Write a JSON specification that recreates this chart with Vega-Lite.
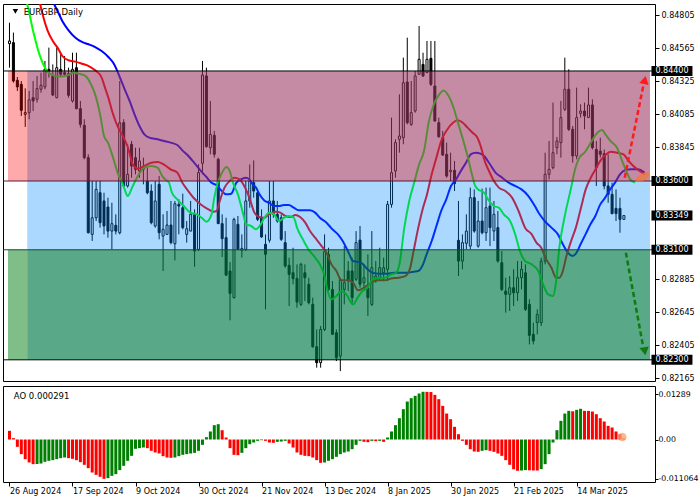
{
"$schema": "https://vega.github.io/schema/vega-lite/v6.json",
"padding": {"left": 2, "top": 3, "right": 0, "bottom": 0},
"background": "white",
"spacing": 2,
"config": {
  "view": {"stroke": "black", "strokeWidth": 1, "fill": "white"},
  "font": "DejaVu Sans",
  "axis": {"labelFont": "DejaVu Sans", "labelFontSize": 8, "labelColor": "black", "tickColor": "black", "domainColor": "black", "grid": false}
},
"datasets": {
"candles": [
{"i":0,"o":0.84599,"h":0.84751,"l":0.84424,"c":0.84618},
{"i":1,"o":0.84606,"h":0.84679,"l":0.84315,"c":0.84327},
{"i":2,"o":0.84332,"h":0.84356,"l":0.84255,"c":0.84284},
{"i":3,"o":0.84303,"h":0.84327,"l":0.84073,"c":0.84114},
{"i":4,"o":0.84085,"h":0.84274,"l":0.83993,"c":0.84097},
{"i":5,"o":0.84097,"h":0.84255,"l":0.84049,"c":0.84191},
{"i":6,"o":0.84206,"h":0.84327,"l":0.84109,"c":0.84182},
{"i":7,"o":0.84194,"h":0.84364,"l":0.84170,"c":0.84272},
{"i":8,"o":0.84267,"h":0.84388,"l":0.84242,"c":0.84296},
{"i":9,"o":0.84284,"h":0.84473,"l":0.84267,"c":0.84412},
{"i":10,"o":0.84412,"h":0.84570,"l":0.84352,"c":0.84395},
{"i":11,"o":0.84364,"h":0.84448,"l":0.84218,"c":0.84225},
{"i":12,"o":0.84206,"h":0.84570,"l":0.84201,"c":0.84424},
{"i":13,"o":0.84412,"h":0.84521,"l":0.84356,"c":0.84376},
{"i":14,"o":0.84388,"h":0.84509,"l":0.84364,"c":0.84376},
{"i":15,"o":0.84381,"h":0.84424,"l":0.84206,"c":0.84223},
{"i":16,"o":0.84182,"h":0.84533,"l":0.84170,"c":0.84412},
{"i":17,"o":0.84424,"h":0.84533,"l":0.84121,"c":0.84126},
{"i":18,"o":0.84126,"h":0.84182,"l":0.83988,"c":0.84012},
{"i":19,"o":0.84005,"h":0.84049,"l":0.83758,"c":0.83770},
{"i":20,"o":0.83770,"h":0.83794,"l":0.83219,"c":0.83224},
{"i":21,"o":0.83212,"h":0.83600,"l":0.83164,"c":0.83333},
{"i":22,"o":0.83333,"h":0.83600,"l":0.83309,"c":0.83539},
{"i":23,"o":0.83515,"h":0.83600,"l":0.83261,"c":0.83297},
{"i":24,"o":0.83455,"h":0.83515,"l":0.83212,"c":0.83273},
{"i":25,"o":0.83411,"h":0.83479,"l":0.83188,"c":0.83236},
{"i":26,"o":0.83236,"h":0.83442,"l":0.83103,"c":0.83290},
{"i":27,"o":0.83278,"h":0.83358,"l":0.83212,"c":0.83236},
{"i":28,"o":0.83224,"h":0.84327,"l":0.83212,"c":0.84024},
{"i":29,"o":0.84024,"h":0.84049,"l":0.83552,"c":0.83564},
{"i":30,"o":0.83564,"h":0.83867,"l":0.83552,"c":0.83649},
{"i":31,"o":0.83867,"h":0.83891,"l":0.83624,"c":0.83709},
{"i":32,"o":0.83770,"h":0.83842,"l":0.83649,"c":0.83685},
{"i":33,"o":0.83673,"h":0.83842,"l":0.83624,"c":0.83746},
{"i":34,"o":0.83697,"h":0.83770,"l":0.83576,"c":0.83685},
{"i":35,"o":0.83600,"h":0.83697,"l":0.83503,"c":0.83515},
{"i":36,"o":0.83527,"h":0.83576,"l":0.83285,"c":0.83297},
{"i":37,"o":0.83273,"h":0.83600,"l":0.83261,"c":0.83455},
{"i":38,"o":0.83576,"h":0.83636,"l":0.83176,"c":0.83224},
{"i":39,"o":0.83200,"h":0.83358,"l":0.82946,"c":0.83249},
{"i":40,"o":0.83212,"h":0.83382,"l":0.83212,"c":0.83280},
{"i":41,"o":0.83280,"h":0.83455,"l":0.83140,"c":0.83152},
{"i":42,"o":0.83144,"h":0.83455,"l":0.83023,"c":0.83435},
{"i":43,"o":0.83430,"h":0.83467,"l":0.83212,"c":0.83418},
{"i":44,"o":0.83406,"h":0.83508,"l":0.83249,"c":0.83261},
{"i":45,"o":0.83212,"h":0.83309,"l":0.83152,"c":0.83253},
{"i":46,"o":0.83236,"h":0.83455,"l":0.83236,"c":0.83358},
{"i":47,"o":0.83358,"h":0.83394,"l":0.82977,"c":0.83091},
{"i":48,"o":0.83103,"h":0.83721,"l":0.83091,"c":0.83661},
{"i":49,"o":0.83729,"h":0.84473,"l":0.83649,"c":0.84371},
{"i":50,"o":0.84364,"h":0.84424,"l":0.83842,"c":0.83850},
{"i":51,"o":0.83842,"h":0.84182,"l":0.83794,"c":0.83939},
{"i":52,"o":0.83932,"h":0.83964,"l":0.83770,"c":0.83794},
{"i":53,"o":0.83758,"h":0.83770,"l":0.83290,"c":0.83290},
{"i":54,"o":0.83290,"h":0.83358,"l":0.83047,"c":0.83181},
{"i":55,"o":0.83188,"h":0.83333,"l":0.82909,"c":0.82916},
{"i":56,"o":0.82946,"h":0.83011,"l":0.82587,"c":0.82783},
{"i":57,"o":0.82752,"h":0.83333,"l":0.82745,"c":0.83321},
{"i":58,"o":0.83285,"h":0.83346,"l":0.83096,"c":0.83103},
{"i":59,"o":0.83096,"h":0.83212,"l":0.83043,"c":0.83110},
{"i":60,"o":0.83103,"h":0.83600,"l":0.83091,"c":0.83455},
{"i":61,"o":0.83455,"h":0.83721,"l":0.83406,"c":0.83600},
{"i":62,"o":0.83588,"h":0.83750,"l":0.83479,"c":0.83527},
{"i":63,"o":0.83515,"h":0.83527,"l":0.83309,"c":0.83321},
{"i":64,"o":0.83333,"h":0.83394,"l":0.83188,"c":0.83193},
{"i":65,"o":0.83140,"h":0.83212,"l":0.82667,"c":0.83067},
{"i":66,"o":0.83169,"h":0.83600,"l":0.83152,"c":0.83455},
{"i":67,"o":0.83455,"h":0.83600,"l":0.83333,"c":0.83358},
{"i":68,"o":0.83358,"h":0.83455,"l":0.83297,"c":0.83309},
{"i":69,"o":0.83333,"h":0.83358,"l":0.83164,"c":0.83176},
{"i":70,"o":0.83152,"h":0.83236,"l":0.82970,"c":0.82982},
{"i":71,"o":0.82987,"h":0.83043,"l":0.82691,"c":0.82921},
{"i":72,"o":0.82933,"h":0.83115,"l":0.82849,"c":0.82890},
{"i":73,"o":0.82892,"h":0.82994,"l":0.82679,"c":0.82720},
{"i":74,"o":0.82703,"h":0.83006,"l":0.82691,"c":0.82994},
{"i":75,"o":0.82933,"h":0.82994,"l":0.82727,"c":0.82897},
{"i":76,"o":0.82849,"h":0.82897,"l":0.82703,"c":0.82715},
{"i":77,"o":0.82703,"h":0.82752,"l":0.82388,"c":0.82395},
{"i":78,"o":0.82395,"h":0.82521,"l":0.82243,"c":0.82279},
{"i":79,"o":0.82279,"h":0.82546,"l":0.82243,"c":0.82521},
{"i":80,"o":0.82521,"h":0.83212,"l":0.82509,"c":0.83086},
{"i":81,"o":0.83067,"h":0.83115,"l":0.82800,"c":0.82812},
{"i":82,"o":0.82812,"h":0.82873,"l":0.82485,"c":0.82485},
{"i":83,"o":0.82497,"h":0.82521,"l":0.82291,"c":0.82315},
{"i":84,"o":0.82327,"h":0.82897,"l":0.82218,"c":0.82885},
{"i":85,"o":0.82812,"h":0.83127,"l":0.82703,"c":0.82861},
{"i":86,"o":0.82946,"h":0.83018,"l":0.82800,"c":0.82873},
{"i":87,"o":0.82946,"h":0.83043,"l":0.82715,"c":0.82752},
{"i":88,"o":0.82885,"h":0.83236,"l":0.82873,"c":0.83152},
{"i":89,"o":0.83171,"h":0.83273,"l":0.82824,"c":0.82849},
{"i":90,"o":0.82861,"h":0.82994,"l":0.82800,"c":0.82897},
{"i":91,"o":0.82824,"h":0.83067,"l":0.82618,"c":0.82752},
{"i":92,"o":0.82703,"h":0.83236,"l":0.82691,"c":0.82970},
{"i":93,"o":0.82873,"h":0.83018,"l":0.82861,"c":0.82909},
{"i":94,"o":0.82897,"h":0.83115,"l":0.82873,"c":0.82970},
{"i":95,"o":0.82933,"h":0.83043,"l":0.82873,"c":0.82970},
{"i":96,"o":0.82958,"h":0.83455,"l":0.82873,"c":0.83430},
{"i":97,"o":0.83430,"h":0.84061,"l":0.83406,"c":0.83661},
{"i":98,"o":0.83673,"h":0.83903,"l":0.83624,"c":0.83879},
{"i":99,"o":0.83903,"h":0.84230,"l":0.83806,"c":0.83927},
{"i":100,"o":0.83915,"h":0.84497,"l":0.83867,"c":0.84315},
{"i":101,"o":0.84320,"h":0.84642,"l":0.84012,"c":0.84024},
{"i":102,"o":0.84012,"h":0.84327,"l":0.84000,"c":0.84097},
{"i":103,"o":0.84109,"h":0.84400,"l":0.84097,"c":0.84364},
{"i":104,"o":0.84376,"h":0.84727,"l":0.84376,"c":0.84485},
{"i":105,"o":0.84448,"h":0.84533,"l":0.84356,"c":0.84364},
{"i":106,"o":0.84388,"h":0.84618,"l":0.84388,"c":0.84485},
{"i":107,"o":0.84492,"h":0.84618,"l":0.84291,"c":0.84303},
{"i":108,"o":0.84291,"h":0.84618,"l":0.84032,"c":0.84036},
{"i":109,"o":0.84024,"h":0.84061,"l":0.83915,"c":0.83922},
{"i":110,"o":0.83915,"h":0.83964,"l":0.83782,"c":0.83789},
{"i":111,"o":0.83794,"h":0.83879,"l":0.83624,"c":0.83636},
{"i":112,"o":0.83668,"h":0.83806,"l":0.83600,"c":0.83678},
{"i":113,"o":0.83678,"h":0.83746,"l":0.83527,"c":0.83581},
{"i":114,"o":0.83169,"h":0.83455,"l":0.82909,"c":0.83018},
{"i":115,"o":0.83018,"h":0.83212,"l":0.82958,"c":0.83152},
{"i":116,"o":0.83147,"h":0.83358,"l":0.83103,"c":0.83236},
{"i":117,"o":0.83127,"h":0.83552,"l":0.83103,"c":0.83479},
{"i":118,"o":0.83479,"h":0.83539,"l":0.83224,"c":0.83236},
{"i":119,"o":0.83127,"h":0.83455,"l":0.83115,"c":0.83309},
{"i":120,"o":0.83309,"h":0.83545,"l":0.83212,"c":0.83224},
{"i":121,"o":0.83224,"h":0.83552,"l":0.83164,"c":0.83406},
{"i":122,"o":0.83418,"h":0.83552,"l":0.83127,"c":0.83261},
{"i":123,"o":0.83236,"h":0.83455,"l":0.83164,"c":0.83358},
{"i":124,"o":0.83261,"h":0.83382,"l":0.83006,"c":0.83018},
{"i":125,"o":0.83006,"h":0.83091,"l":0.82800,"c":0.82812},
{"i":126,"o":0.82800,"h":0.82897,"l":0.82643,"c":0.82776},
{"i":127,"o":0.82776,"h":0.82909,"l":0.82655,"c":0.82824},
{"i":128,"o":0.82824,"h":0.82958,"l":0.82691,"c":0.82788},
{"i":129,"o":0.82788,"h":0.83018,"l":0.82727,"c":0.82897},
{"i":130,"o":0.82897,"h":0.83018,"l":0.82812,"c":0.82958},
{"i":131,"o":0.82933,"h":0.82994,"l":0.82655,"c":0.82667},
{"i":132,"o":0.82703,"h":0.82740,"l":0.82412,"c":0.82478},
{"i":133,"o":0.82485,"h":0.82570,"l":0.82412,"c":0.82437},
{"i":134,"o":0.82570,"h":0.82667,"l":0.82485,"c":0.82630},
{"i":135,"o":0.82570,"h":0.83043,"l":0.82546,"c":0.83018},
{"i":136,"o":0.83018,"h":0.83806,"l":0.82994,"c":0.83649},
{"i":137,"o":0.83649,"h":0.83891,"l":0.83612,"c":0.83685},
{"i":138,"o":0.83697,"h":0.84170,"l":0.83685,"c":0.83806},
{"i":139,"o":0.83842,"h":0.83920,"l":0.83794,"c":0.83891},
{"i":140,"o":0.83879,"h":0.84182,"l":0.83770,"c":0.84061},
{"i":141,"o":0.84121,"h":0.84497,"l":0.84109,"c":0.84267},
{"i":142,"o":0.84267,"h":0.84412,"l":0.83964,"c":0.83976},
{"i":143,"o":0.83976,"h":0.84000,"l":0.83733,"c":0.83782},
{"i":144,"o":0.83782,"h":0.84279,"l":0.83758,"c":0.84061},
{"i":145,"o":0.84092,"h":0.84158,"l":0.84061,"c":0.84109},
{"i":146,"o":0.84109,"h":0.84170,"l":0.83976,"c":0.84073},
{"i":147,"o":0.84061,"h":0.84279,"l":0.84061,"c":0.84153},
{"i":148,"o":0.84153,"h":0.84194,"l":0.83830,"c":0.83842},
{"i":149,"o":0.83830,"h":0.83891,"l":0.83564,"c":0.83697},
{"i":150,"o":0.83818,"h":0.83915,"l":0.83770,"c":0.83794},
{"i":151,"o":0.83799,"h":0.83830,"l":0.83539,"c":0.83564},
{"i":152,"o":0.83564,"h":0.83794,"l":0.83442,"c":0.83503},
{"i":153,"o":0.83503,"h":0.83588,"l":0.83358,"c":0.83363},
{"i":154,"o":0.83401,"h":0.83539,"l":0.83309,"c":0.83363},
{"i":155,"o":0.83401,"h":0.83479,"l":0.83224,"c":0.83321},
{"i":156,"o":0.83321,"h":0.83350,"l":0.83321,"c":0.83349}
],
"alligator": [
{"line":"Jaw","i":10.9,"v":0.84909},{"line":"Jaw","i":12.2,"v":0.84836},{"line":"Jaw","i":13.4,"v":0.84764},{"line":"Jaw","i":15,"v":0.84696},{"line":"Jaw","i":16.75,"v":0.84642},{"line":"Jaw","i":18.4,"v":0.84611},{"line":"Jaw","i":20.1,"v":0.84594},{"line":"Jaw","i":21.75,"v":0.84574},{"line":"Jaw","i":23.4,"v":0.84545},{"line":"Jaw","i":25.1,"v":0.84502},{"line":"Jaw","i":26.3,"v":0.84461},{"line":"Jaw","i":27.2,"v":0.84412},{"line":"Jaw","i":28,"v":0.84356},{"line":"Jaw","i":29.25,"v":0.84267},{"line":"Jaw","i":30.5,"v":0.84182},{"line":"Jaw","i":31.75,"v":0.84085},{"line":"Jaw","i":33,"v":0.84000},{"line":"Jaw","i":34.25,"v":0.83939},{"line":"Jaw","i":35.5,"v":0.83915},{"line":"Jaw","i":37.6,"v":0.83903},{"line":"Jaw","i":39.25,"v":0.83891},{"line":"Jaw","i":40.9,"v":0.83879},{"line":"Jaw","i":42.6,"v":0.83862},{"line":"Jaw","i":43.9,"v":0.83823},{"line":"Jaw","i":45.2,"v":0.83789},{"line":"Jaw","i":46.4,"v":0.83750},{"line":"Jaw","i":47.6,"v":0.83709},{"line":"Jaw","i":48.75,"v":0.83668},{"line":"Jaw","i":50,"v":0.83629},{"line":"Jaw","i":51.3,"v":0.83588},{"line":"Jaw","i":52.6,"v":0.83569},{"line":"Jaw","i":53.75,"v":0.83532},{"line":"Jaw","i":55,"v":0.83503},{"line":"Jaw","i":56.3,"v":0.83508},{"line":"Jaw","i":57.6,"v":0.83588},{"line":"Jaw","i":58.75,"v":0.83612},{"line":"Jaw","i":60,"v":0.83624},{"line":"Jaw","i":60.9,"v":0.83612},{"line":"Jaw","i":61.75,"v":0.83576},{"line":"Jaw","i":62.6,"v":0.83552},{"line":"Jaw","i":63.4,"v":0.83508},{"line":"Jaw","i":64.7,"v":0.83459},{"line":"Jaw","i":65.9,"v":0.83442},{"line":"Jaw","i":67.2,"v":0.83418},{"line":"Jaw","i":68.4,"v":0.83418},{"line":"Jaw","i":69.7,"v":0.83426},{"line":"Jaw","i":70.9,"v":0.83426},{"line":"Jaw","i":72.2,"v":0.83406},{"line":"Jaw","i":73.4,"v":0.83387},{"line":"Jaw","i":75.1,"v":0.83387},{"line":"Jaw","i":76.3,"v":0.83387},{"line":"Jaw","i":77.6,"v":0.83370},{"line":"Jaw","i":78.8,"v":0.83333},{"line":"Jaw","i":80.5,"v":0.83297},{"line":"Jaw","i":81.75,"v":0.83256},{"line":"Jaw","i":83.4,"v":0.83212},{"line":"Jaw","i":84.6,"v":0.83164},{"line":"Jaw","i":85.5,"v":0.83115},{"line":"Jaw","i":86.3,"v":0.83067},{"line":"Jaw","i":87.2,"v":0.83018},{"line":"Jaw","i":88.4,"v":0.83013},{"line":"Jaw","i":89.6,"v":0.82999},{"line":"Jaw","i":90.9,"v":0.82958},{"line":"Jaw","i":92.2,"v":0.82933},{"line":"Jaw","i":93.9,"v":0.82926},{"line":"Jaw","i":95.9,"v":0.82926},{"line":"Jaw","i":97.6,"v":0.82933},{"line":"Jaw","i":99.25,"v":0.82933},{"line":"Jaw","i":100.9,"v":0.82933},{"line":"Jaw","i":102.6,"v":0.82941},{"line":"Jaw","i":103.8,"v":0.82946},{"line":"Jaw","i":105,"v":0.82994},{"line":"Jaw","i":105.9,"v":0.83067},{"line":"Jaw","i":107.2,"v":0.83164},{"line":"Jaw","i":108.4,"v":0.83273},{"line":"Jaw","i":109.6,"v":0.83382},{"line":"Jaw","i":110.9,"v":0.83467},{"line":"Jaw","i":112.1,"v":0.83564},{"line":"Jaw","i":113.4,"v":0.83612},{"line":"Jaw","i":114.6,"v":0.83673},{"line":"Jaw","i":115.9,"v":0.83733},{"line":"Jaw","i":117.1,"v":0.83794},{"line":"Jaw","i":118.4,"v":0.83806},{"line":"Jaw","i":119.6,"v":0.83799},{"line":"Jaw","i":120.5,"v":0.83782},{"line":"Jaw","i":121.75,"v":0.83733},{"line":"Jaw","i":123.4,"v":0.83661},{"line":"Jaw","i":125.1,"v":0.83624},{"line":"Jaw","i":126.75,"v":0.83588},{"line":"Jaw","i":128.4,"v":0.83564},{"line":"Jaw","i":130,"v":0.83539},{"line":"Jaw","i":131.75,"v":0.83491},{"line":"Jaw","i":133.4,"v":0.83418},{"line":"Jaw","i":134.6,"v":0.83358},{"line":"Jaw","i":135.9,"v":0.83309},{"line":"Jaw","i":137.6,"v":0.83261},{"line":"Jaw","i":139.25,"v":0.83212},{"line":"Jaw","i":140.5,"v":0.83140},{"line":"Jaw","i":141.75,"v":0.83079},{"line":"Jaw","i":143,"v":0.83055},{"line":"Jaw","i":143.8,"v":0.83072},{"line":"Jaw","i":145,"v":0.83140},{"line":"Jaw","i":146.25,"v":0.83212},{"line":"Jaw","i":147.5,"v":0.83285},{"line":"Jaw","i":148.75,"v":0.83346},{"line":"Jaw","i":150,"v":0.83430},{"line":"Jaw","i":151.25,"v":0.83479},{"line":"Jaw","i":152.5,"v":0.83539},{"line":"Jaw","i":153.75,"v":0.83588},{"line":"Jaw","i":155,"v":0.83649},{"line":"Jaw","i":156.25,"v":0.83678},{"line":"Jaw","i":157.9,"v":0.83685},{"line":"Jaw","i":159.5,"v":0.83685},{"line":"Jaw","i":161.25,"v":0.83661},
{"line":"Teeth","i":7.6,"v":0.84909},{"line":"Teeth","i":8.4,"v":0.84812},{"line":"Teeth","i":9.7,"v":0.84691},{"line":"Teeth","i":11,"v":0.84618},{"line":"Teeth","i":12.2,"v":0.84570},{"line":"Teeth","i":13.4,"v":0.84509},{"line":"Teeth","i":15,"v":0.84478},{"line":"Teeth","i":16.75,"v":0.84468},{"line":"Teeth","i":18.4,"v":0.84453},{"line":"Teeth","i":20.1,"v":0.84436},{"line":"Teeth","i":21.75,"v":0.84405},{"line":"Teeth","i":23.4,"v":0.84352},{"line":"Teeth","i":24.25,"v":0.84279},{"line":"Teeth","i":25.1,"v":0.84206},{"line":"Teeth","i":26.3,"v":0.84085},{"line":"Teeth","i":27.6,"v":0.83988},{"line":"Teeth","i":28.8,"v":0.83927},{"line":"Teeth","i":30.1,"v":0.83842},{"line":"Teeth","i":31.3,"v":0.83721},{"line":"Teeth","i":32.6,"v":0.83690},{"line":"Teeth","i":34.25,"v":0.83709},{"line":"Teeth","i":36,"v":0.83733},{"line":"Teeth","i":37.6,"v":0.83738},{"line":"Teeth","i":38.8,"v":0.83726},{"line":"Teeth","i":40,"v":0.83704},{"line":"Teeth","i":40.9,"v":0.83685},{"line":"Teeth","i":42.6,"v":0.83661},{"line":"Teeth","i":43.9,"v":0.83588},{"line":"Teeth","i":45.4,"v":0.83527},{"line":"Teeth","i":47.1,"v":0.83467},{"line":"Teeth","i":48.75,"v":0.83426},{"line":"Teeth","i":50.5,"v":0.83394},{"line":"Teeth","i":51.75,"v":0.83377},{"line":"Teeth","i":52.6,"v":0.83382},{"line":"Teeth","i":53.4,"v":0.83455},{"line":"Teeth","i":54.6,"v":0.83552},{"line":"Teeth","i":55.9,"v":0.83600},{"line":"Teeth","i":57.1,"v":0.83624},{"line":"Teeth","i":58.4,"v":0.83612},{"line":"Teeth","i":59.6,"v":0.83564},{"line":"Teeth","i":60.9,"v":0.83479},{"line":"Teeth","i":62.2,"v":0.83370},{"line":"Teeth","i":63.4,"v":0.83338},{"line":"Teeth","i":64.7,"v":0.83333},{"line":"Teeth","i":65.9,"v":0.83358},{"line":"Teeth","i":67.6,"v":0.83377},{"line":"Teeth","i":68.8,"v":0.83370},{"line":"Teeth","i":70,"v":0.83346},{"line":"Teeth","i":71.3,"v":0.83338},{"line":"Teeth","i":72.6,"v":0.83353},{"line":"Teeth","i":73.8,"v":0.83338},{"line":"Teeth","i":75.1,"v":0.83297},{"line":"Teeth","i":76.3,"v":0.83236},{"line":"Teeth","i":77.6,"v":0.83188},{"line":"Teeth","i":79.25,"v":0.83127},{"line":"Teeth","i":80.5,"v":0.83079},{"line":"Teeth","i":81.75,"v":0.82994},{"line":"Teeth","i":83,"v":0.82946},{"line":"Teeth","i":84.25,"v":0.82878},{"line":"Teeth","i":85.9,"v":0.82878},{"line":"Teeth","i":87.25,"v":0.82861},{"line":"Teeth","i":88.5,"v":0.82805},{"line":"Teeth","i":89.75,"v":0.82820},{"line":"Teeth","i":91.4,"v":0.82853},{"line":"Teeth","i":93.4,"v":0.82878},{"line":"Teeth","i":95.25,"v":0.82878},{"line":"Teeth","i":96.9,"v":0.82892},{"line":"Teeth","i":98.8,"v":0.82897},{"line":"Teeth","i":100.5,"v":0.82909},{"line":"Teeth","i":101.75,"v":0.82970},{"line":"Teeth","i":102.6,"v":0.83091},{"line":"Teeth","i":103.8,"v":0.83261},{"line":"Teeth","i":105,"v":0.83406},{"line":"Teeth","i":105.9,"v":0.83491},{"line":"Teeth","i":107.2,"v":0.83649},{"line":"Teeth","i":108.4,"v":0.83770},{"line":"Teeth","i":109.6,"v":0.83891},{"line":"Teeth","i":110.9,"v":0.83964},{"line":"Teeth","i":112.6,"v":0.84024},{"line":"Teeth","i":113.8,"v":0.84041},{"line":"Teeth","i":115.1,"v":0.84024},{"line":"Teeth","i":116.3,"v":0.83988},{"line":"Teeth","i":117.6,"v":0.83951},{"line":"Teeth","i":118.8,"v":0.83915},{"line":"Teeth","i":120,"v":0.83818},{"line":"Teeth","i":120.5,"v":0.83760},{"line":"Teeth","i":121.75,"v":0.83673},{"line":"Teeth","i":123,"v":0.83600},{"line":"Teeth","i":124.25,"v":0.83552},{"line":"Teeth","i":125.9,"v":0.83527},{"line":"Teeth","i":127.6,"v":0.83479},{"line":"Teeth","i":129.25,"v":0.83382},{"line":"Teeth","i":130.9,"v":0.83261},{"line":"Teeth","i":132.6,"v":0.83212},{"line":"Teeth","i":133.8,"v":0.83152},{"line":"Teeth","i":135,"v":0.83115},{"line":"Teeth","i":136.3,"v":0.83030},{"line":"Teeth","i":137.6,"v":0.82970},{"line":"Teeth","i":138.8,"v":0.82897},{"line":"Teeth","i":139.6,"v":0.82897},{"line":"Teeth","i":140.5,"v":0.82946},{"line":"Teeth","i":141.3,"v":0.83043},{"line":"Teeth","i":142.6,"v":0.83164},{"line":"Teeth","i":143.8,"v":0.83261},{"line":"Teeth","i":145.1,"v":0.83406},{"line":"Teeth","i":146.3,"v":0.83539},{"line":"Teeth","i":147.6,"v":0.83624},{"line":"Teeth","i":148.8,"v":0.83685},{"line":"Teeth","i":150,"v":0.83746},{"line":"Teeth","i":151.3,"v":0.83789},{"line":"Teeth","i":152.6,"v":0.83813},{"line":"Teeth","i":154.25,"v":0.83806},{"line":"Teeth","i":155.9,"v":0.83794},{"line":"Teeth","i":157.1,"v":0.83750},{"line":"Teeth","i":158.4,"v":0.83709},{"line":"Teeth","i":160,"v":0.83673},{"line":"Teeth","i":161.3,"v":0.83649},
{"line":"Lips","i":4.25,"v":0.84909},{"line":"Lips","i":4.5,"v":0.84885},{"line":"Lips","i":6,"v":0.84691},{"line":"Lips","i":7.6,"v":0.84521},{"line":"Lips","i":9,"v":0.84424},{"line":"Lips","i":10.5,"v":0.84376},{"line":"Lips","i":12.6,"v":0.84359},{"line":"Lips","i":15,"v":0.84371},{"line":"Lips","i":16.3,"v":0.84388},{"line":"Lips","i":17.6,"v":0.84381},{"line":"Lips","i":19.25,"v":0.84364},{"line":"Lips","i":20.5,"v":0.84315},{"line":"Lips","i":21.75,"v":0.84230},{"line":"Lips","i":23,"v":0.84085},{"line":"Lips","i":24,"v":0.83927},{"line":"Lips","i":25,"v":0.83879},{"line":"Lips","i":26.3,"v":0.83770},{"line":"Lips","i":27.6,"v":0.83649},{"line":"Lips","i":28.6,"v":0.83588},{"line":"Lips","i":29.25,"v":0.83539},{"line":"Lips","i":30,"v":0.83491},{"line":"Lips","i":31.3,"v":0.83564},{"line":"Lips","i":32.6,"v":0.83636},{"line":"Lips","i":34.25,"v":0.83697},{"line":"Lips","i":36,"v":0.83709},{"line":"Lips","i":37.6,"v":0.83697},{"line":"Lips","i":38.8,"v":0.83636},{"line":"Lips","i":40,"v":0.83600},{"line":"Lips","i":40.5,"v":0.83588},{"line":"Lips","i":41.25,"v":0.83515},{"line":"Lips","i":42.6,"v":0.83467},{"line":"Lips","i":44.25,"v":0.83418},{"line":"Lips","i":45.9,"v":0.83370},{"line":"Lips","i":47.6,"v":0.83358},{"line":"Lips","i":49.25,"v":0.83321},{"line":"Lips","i":50,"v":0.83304},{"line":"Lips","i":51.3,"v":0.83358},{"line":"Lips","i":52,"v":0.83479},{"line":"Lips","i":52.9,"v":0.83588},{"line":"Lips","i":53.75,"v":0.83649},{"line":"Lips","i":55.1,"v":0.83702},{"line":"Lips","i":55.9,"v":0.83673},{"line":"Lips","i":56.75,"v":0.83588},{"line":"Lips","i":58,"v":0.83503},{"line":"Lips","i":59.25,"v":0.83370},{"line":"Lips","i":60.1,"v":0.83285},{"line":"Lips","i":61.35,"v":0.83273},{"line":"Lips","i":62.6,"v":0.83249},{"line":"Lips","i":63.8,"v":0.83285},{"line":"Lips","i":64.7,"v":0.83333},{"line":"Lips","i":65.9,"v":0.83370},{"line":"Lips","i":67.2,"v":0.83358},{"line":"Lips","i":68.4,"v":0.83309},{"line":"Lips","i":69.7,"v":0.83333},{"line":"Lips","i":70.9,"v":0.83346},{"line":"Lips","i":72.2,"v":0.83333},{"line":"Lips","i":73,"v":0.83261},{"line":"Lips","i":74.25,"v":0.83188},{"line":"Lips","i":75.9,"v":0.83103},{"line":"Lips","i":77.6,"v":0.83043},{"line":"Lips","i":78.8,"v":0.82994},{"line":"Lips","i":80.1,"v":0.82897},{"line":"Lips","i":80.5,"v":0.82837},{"line":"Lips","i":81.75,"v":0.82740},{"line":"Lips","i":83,"v":0.82764},{"line":"Lips","i":84.25,"v":0.82800},{"line":"Lips","i":85.5,"v":0.82776},{"line":"Lips","i":87.2,"v":0.82703},{"line":"Lips","i":88.4,"v":0.82752},{"line":"Lips","i":89.6,"v":0.82800},{"line":"Lips","i":90.9,"v":0.82824},{"line":"Lips","i":92.2,"v":0.82885},{"line":"Lips","i":93.9,"v":0.82897},{"line":"Lips","i":95.25,"v":0.82897},{"line":"Lips","i":96.9,"v":0.82921},{"line":"Lips","i":98.2,"v":0.82933},{"line":"Lips","i":99,"v":0.82994},{"line":"Lips","i":100.25,"v":0.83261},{"line":"Lips","i":101.5,"v":0.83455},{"line":"Lips","i":102.75,"v":0.83588},{"line":"Lips","i":104,"v":0.83721},{"line":"Lips","i":105.25,"v":0.83818},{"line":"Lips","i":106.5,"v":0.84036},{"line":"Lips","i":107.75,"v":0.84158},{"line":"Lips","i":109,"v":0.84225},{"line":"Lips","i":110.25,"v":0.84259},{"line":"Lips","i":111.5,"v":0.84218},{"line":"Lips","i":112.75,"v":0.84133},{"line":"Lips","i":114,"v":0.84012},{"line":"Lips","i":115.25,"v":0.83891},{"line":"Lips","i":116.5,"v":0.83758},{"line":"Lips","i":117.4,"v":0.83649},{"line":"Lips","i":118.25,"v":0.83564},{"line":"Lips","i":119,"v":0.83539},{"line":"Lips","i":120.5,"v":0.83515},{"line":"Lips","i":121.75,"v":0.83455},{"line":"Lips","i":123,"v":0.83418},{"line":"Lips","i":124.25,"v":0.83406},{"line":"Lips","i":125.5,"v":0.83358},{"line":"Lips","i":127.1,"v":0.83309},{"line":"Lips","i":128.4,"v":0.83212},{"line":"Lips","i":129.6,"v":0.83091},{"line":"Lips","i":130.9,"v":0.83018},{"line":"Lips","i":132.6,"v":0.82994},{"line":"Lips","i":134.25,"v":0.82946},{"line":"Lips","i":135.5,"v":0.82849},{"line":"Lips","i":136.75,"v":0.82776},{"line":"Lips","i":138,"v":0.82764},{"line":"Lips","i":138.8,"v":0.82873},{"line":"Lips","i":139.6,"v":0.83115},{"line":"Lips","i":140.9,"v":0.83333},{"line":"Lips","i":142.6,"v":0.83552},{"line":"Lips","i":143.6,"v":0.83685},{"line":"Lips","i":144.7,"v":0.83770},{"line":"Lips","i":146,"v":0.83806},{"line":"Lips","i":147.6,"v":0.83879},{"line":"Lips","i":149.25,"v":0.83951},{"line":"Lips","i":150.5,"v":0.83971},{"line":"Lips","i":151.3,"v":0.83939},{"line":"Lips","i":152.6,"v":0.83891},{"line":"Lips","i":154.25,"v":0.83842},{"line":"Lips","i":155.9,"v":0.83721},{"line":"Lips","i":157.6,"v":0.83612},{"line":"Lips","i":158.8,"v":0.83588}
],
"ao": [
{"i":0,"v":0.00245,"d":"r"},{"i":1,"v":0.00038,"d":"r"},{"i":2,"v":-0.00208,"d":"r"},{"i":3,"v":-0.00415,"d":"r"},{"i":4,"v":-0.00557,"d":"r"},{"i":5,"v":-0.00651,"d":"r"},{"i":6,"v":-0.00699,"d":"r"},{"i":7,"v":-0.00695,"d":"g"},{"i":8,"v":-0.00680,"d":"g"},{"i":9,"v":-0.00632,"d":"g"},{"i":10,"v":-0.00604,"d":"g"},{"i":11,"v":-0.00585,"d":"g"},{"i":12,"v":-0.00557,"d":"g"},{"i":13,"v":-0.00529,"d":"g"},{"i":14,"v":-0.00510,"d":"g"},{"i":15,"v":-0.00529,"d":"r"},{"i":16,"v":-0.00548,"d":"r"},{"i":17,"v":-0.00585,"d":"r"},{"i":18,"v":-0.00642,"d":"r"},{"i":19,"v":-0.00717,"d":"r"},{"i":20,"v":-0.00812,"d":"r"},{"i":21,"v":-0.00935,"d":"r"},{"i":22,"v":-0.01001,"d":"r"},{"i":23,"v":-0.01057,"d":"r"},{"i":24,"v":-0.01114,"d":"r"},{"i":25,"v":-0.01095,"d":"g"},{"i":26,"v":-0.01029,"d":"g"},{"i":27,"v":-0.00982,"d":"g"},{"i":28,"v":-0.00868,"d":"g"},{"i":29,"v":-0.00746,"d":"g"},{"i":30,"v":-0.00604,"d":"g"},{"i":31,"v":-0.00463,"d":"g"},{"i":32,"v":-0.00264,"d":"g"},{"i":33,"v":-0.00245,"d":"g"},{"i":34,"v":-0.00227,"d":"g"},{"i":35,"v":-0.00245,"d":"r"},{"i":36,"v":-0.00321,"d":"r"},{"i":37,"v":-0.00368,"d":"r"},{"i":38,"v":-0.00396,"d":"r"},{"i":39,"v":-0.00472,"d":"r"},{"i":40,"v":-0.00510,"d":"r"},{"i":41,"v":-0.00519,"d":"r"},{"i":42,"v":-0.00510,"d":"g"},{"i":43,"v":-0.00472,"d":"g"},{"i":44,"v":-0.00434,"d":"g"},{"i":45,"v":-0.00415,"d":"g"},{"i":46,"v":-0.00396,"d":"g"},{"i":47,"v":-0.00378,"d":"g"},{"i":48,"v":-0.00321,"d":"g"},{"i":49,"v":-0.00151,"d":"g"},{"i":50,"v":0.00066,"d":"g"},{"i":51,"v":0.00227,"d":"g"},{"i":52,"v":0.00406,"d":"g"},{"i":53,"v":0.00434,"d":"g"},{"i":54,"v":0.00264,"d":"r"},{"i":55,"v":0.00057,"d":"r"},{"i":56,"v":-0.00245,"d":"r"},{"i":57,"v":-0.00434,"d":"r"},{"i":58,"v":-0.00444,"d":"r"},{"i":59,"v":-0.00378,"d":"g"},{"i":60,"v":-0.00245,"d":"g"},{"i":61,"v":-0.00132,"d":"g"},{"i":62,"v":-0.00085,"d":"g"},{"i":63,"v":-0.00038,"d":"g"},{"i":64,"v":-0.00019,"d":"g"},{"i":65,"v":-0.00038,"d":"r"},{"i":66,"v":-0.00085,"d":"r"},{"i":67,"v":-0.00094,"d":"r"},{"i":68,"v":-0.00066,"d":"g"},{"i":69,"v":-0.00057,"d":"g"},{"i":70,"v":-0.00038,"d":"g"},{"i":71,"v":-0.00113,"d":"r"},{"i":72,"v":-0.00227,"d":"r"},{"i":73,"v":-0.00368,"d":"r"},{"i":74,"v":-0.00434,"d":"r"},{"i":75,"v":-0.00463,"d":"r"},{"i":76,"v":-0.00472,"d":"r"},{"i":77,"v":-0.00510,"d":"r"},{"i":78,"v":-0.00585,"d":"r"},{"i":79,"v":-0.00661,"d":"r"},{"i":80,"v":-0.00651,"d":"g"},{"i":81,"v":-0.00604,"d":"g"},{"i":82,"v":-0.00557,"d":"g"},{"i":83,"v":-0.00491,"d":"g"},{"i":84,"v":-0.00415,"d":"g"},{"i":85,"v":-0.00368,"d":"g"},{"i":86,"v":-0.00340,"d":"g"},{"i":87,"v":-0.00274,"d":"g"},{"i":88,"v":-0.00151,"d":"g"},{"i":89,"v":-0.00038,"d":"g"},{"i":90,"v":-0.00066,"d":"r"},{"i":91,"v":-0.00076,"d":"r"},{"i":92,"v":-0.00038,"d":"g"},{"i":93,"v":-0.00047,"d":"r"},{"i":94,"v":-0.00038,"d":"g"},{"i":95,"v":-0.00066,"d":"r"},{"i":96,"v":0.00057,"d":"g"},{"i":97,"v":0.00227,"d":"g"},{"i":98,"v":0.00406,"d":"g"},{"i":99,"v":0.00604,"d":"g"},{"i":100,"v":0.00859,"d":"g"},{"i":101,"v":0.01076,"d":"g"},{"i":102,"v":0.01171,"d":"g"},{"i":103,"v":0.01237,"d":"g"},{"i":104,"v":0.01303,"d":"g"},{"i":105,"v":0.01352,"d":"g"},{"i":106,"v":0.01350,"d":"r"},{"i":107,"v":0.01345,"d":"r"},{"i":108,"v":0.01265,"d":"r"},{"i":109,"v":0.01142,"d":"r"},{"i":110,"v":0.00953,"d":"r"},{"i":111,"v":0.00736,"d":"r"},{"i":112,"v":0.00576,"d":"r"},{"i":113,"v":0.00359,"d":"r"},{"i":114,"v":0.00151,"d":"r"},{"i":115,"v":-0.00038,"d":"r"},{"i":116,"v":-0.00151,"d":"r"},{"i":117,"v":-0.00274,"d":"r"},{"i":118,"v":-0.00340,"d":"r"},{"i":119,"v":-0.00349,"d":"r"},{"i":120,"v":-0.00321,"d":"g"},{"i":121,"v":-0.00302,"d":"g"},{"i":122,"v":-0.00321,"d":"r"},{"i":123,"v":-0.00349,"d":"r"},{"i":124,"v":-0.00396,"d":"r"},{"i":125,"v":-0.00463,"d":"r"},{"i":126,"v":-0.00585,"d":"r"},{"i":127,"v":-0.00717,"d":"r"},{"i":128,"v":-0.00840,"d":"r"},{"i":129,"v":-0.00887,"d":"r"},{"i":130,"v":-0.00878,"d":"g"},{"i":131,"v":-0.00868,"d":"g"},{"i":132,"v":-0.00873,"d":"r"},{"i":133,"v":-0.00878,"d":"r"},{"i":134,"v":-0.00879,"d":"r"},{"i":135,"v":-0.00840,"d":"g"},{"i":136,"v":-0.00699,"d":"g"},{"i":137,"v":-0.00415,"d":"g"},{"i":138,"v":-0.00085,"d":"g"},{"i":139,"v":0.00264,"d":"g"},{"i":140,"v":0.00529,"d":"g"},{"i":141,"v":0.00736,"d":"g"},{"i":142,"v":0.00812,"d":"g"},{"i":143,"v":0.00800,"d":"r"},{"i":144,"v":0.00840,"d":"g"},{"i":145,"v":0.00870,"d":"g"},{"i":146,"v":0.00812,"d":"r"},{"i":147,"v":0.00810,"d":"r"},{"i":148,"v":0.00793,"d":"r"},{"i":149,"v":0.00717,"d":"r"},{"i":150,"v":0.00604,"d":"r"},{"i":151,"v":0.00510,"d":"r"},{"i":152,"v":0.00387,"d":"r"},{"i":153,"v":0.00340,"d":"r"},{"i":154,"v":0.00227,"d":"r"},{"i":155,"v":0.00151,"d":"r"},{"i":156,"v":0.000291,"d":"r"}
],
"zones": [
{"zone":"sell","top":0.844,"bottom":0.836},
{"zone":"mid","top":0.836,"bottom":0.831},
{"zone":"buy","top":0.831,"bottom":0.823}
],
"levels": [
{"p":0.844,"k":"edge"},{"p":0.836,"k":"sell"},{"p":0.831,"k":"buy"},{"p":0.823,"k":"edge"}
],
"tags": [
{"t":"0.84400","p":0.844},{"t":"0.83600","p":0.836},{"t":"0.83349","p":0.83349},{"t":"0.83100","p":0.831},{"t":"0.82300","p":0.823}
],
"arrows": [
{"a":"up","i":156.2,"p":0.83624},{"a":"up","i":161.0,"p":0.84303},
{"a":"down","i":156.5,"p":0.83079},{"a":"down","i":160.9,"p":0.82393}
],
"heads": [
{"a":"up","i":161.3,"p":0.84335},{"a":"down","i":161.3,"p":0.82362}
]
},
"vconcat": [
{
"width": 652,
"height": 377,
"layer": [
{"data": {"name": "candles"},
 "mark": {"type": "rule", "color": "black", "strokeWidth": 1},
 "encoding": {
  "x": {"field": "i", "type": "quantitative", "scale": {"domain": [-0.375, 162.625], "nice": false, "zero": false}, "axis": null},
  "y": {"field": "l", "type": "quantitative", "scale": {"domain": [0.82146, 0.84887], "nice": false, "zero": false},
        "axis": {"orient": "right", "title": null, "values": [0.84805, 0.84565, 0.84325, 0.84085, 0.83845, 0.82885, 0.82645, 0.82405, 0.82165], "format": ".5f", "tickSize": 4, "labelPadding": 2, "domain": false}},
  "y2": {"field": "h"}
 }},
{"data": {"name": "candles"},
 "mark": {"type": "bar", "width": 2, "stroke": "black", "strokeWidth": 1},
 "encoding": {
  "x": {"field": "i", "type": "quantitative", "axis": null},
  "y": {"field": "o", "type": "quantitative"},
  "y2": {"field": "c"},
  "fill": {"condition": {"test": "datum.c > datum.o", "value": "white"}, "value": "black"}
 }},
{"data": {"name": "alligator"},
 "mark": {"type": "line", "strokeWidth": 2, "clip": true, "interpolate": "monotone"},
 "encoding": {
  "x": {"field": "i", "type": "quantitative", "axis": null},
  "y": {"field": "v", "type": "quantitative"},
  "color": {"field": "line", "type": "nominal", "scale": {"domain": ["Jaw", "Teeth", "Lips"], "range": ["#0000ff", "#ff0000", "#00ff00"]}, "legend": null},
  "order": {"field": "i", "type": "quantitative"}
 }},
{"data": {"name": "zones"},
 "mark": {"type": "rect"},
 "encoding": {
  "x": {"datum": 4.5, "axis": null},
  "x2": {"datum": 162.625},
  "y": {"field": "top", "type": "quantitative"},
  "y2": {"field": "bottom"},
  "fill": {"condition": [{"test": "datum.zone == 'sell'", "value": "#9b3764"}, {"test": "datum.zone == 'mid'", "value": "#008aff"}], "value": "#007b4a"},
  "fillOpacity": {"condition": [{"test": "datum.zone == 'sell'", "value": 0.58}, {"test": "datum.zone == 'mid'", "value": 0.33}], "value": 0.65}
 }},
{"data": {"name": "zones"},
 "transform": [{"filter": "datum.zone != 'mid'"}],
 "mark": {"type": "rect"},
 "encoding": {
  "x": {"datum": -0.375, "axis": null},
  "x2": {"datum": 4.5},
  "y": {"field": "top", "type": "quantitative"},
  "y2": {"field": "bottom"},
  "fill": {"condition": {"test": "datum.zone == 'sell'", "value": "#ff0000"}, "value": "#017d11"},
  "fillOpacity": {"condition": {"test": "datum.zone == 'sell'", "value": 0.333}, "value": 0.5}
 }},
{"data": {"name": "levels"},
 "mark": {"type": "rule", "strokeWidth": 1},
 "encoding": {
  "y": {"field": "p", "type": "quantitative"},
  "stroke": {"condition": [{"test": "datum.k == 'sell'", "value": "#5a1a35"}, {"test": "datum.k == 'buy'", "value": "#0f4a35"}], "value": "black"}
 }},
{"data": {"name": "arrows"},
 "mark": {"type": "line", "strokeWidth": 2.5, "strokeDash": [5, 3]},
 "encoding": {
  "x": {"field": "i", "type": "quantitative", "axis": null},
  "y": {"field": "p", "type": "quantitative"},
  "detail": {"field": "a"},
  "stroke": {"condition": {"test": "datum.a == 'up'", "value": "#ff1a1a"}, "value": "#0f7a0f"}
 }},
{"data": {"name": "heads"},
 "transform": [{"filter": "datum.a == 'up'"}],
 "mark": {"type": "point", "shape": "triangle-up", "filled": true, "size": 90, "angle": 12, "color": "#ff1a1a", "opacity": 1},
 "encoding": {
  "x": {"field": "i", "type": "quantitative", "axis": null},
  "y": {"field": "p", "type": "quantitative"}
 }},
{"data": {"name": "heads"},
 "transform": [{"filter": "datum.a == 'down'"}],
 "mark": {"type": "point", "shape": "triangle-down", "filled": true, "size": 90, "angle": -10, "color": "#0f7a0f", "opacity": 1},
 "encoding": {
  "x": {"field": "i", "type": "quantitative", "axis": null},
  "y": {"field": "p", "type": "quantitative"}
 }},
{"data": {"values": [{"i": 160.8, "p": 0.83629}]},
 "mark": {"type": "point", "shape": "M-1,0A1,0.45 0 1,1 1,0A1,0.45 0 1,1 -1,0Z", "filled": true, "size": 256, "angle": -30, "color": "#f07838", "opacity": 0.7},
 "encoding": {
  "x": {"field": "i", "type": "quantitative", "axis": null},
  "y": {"field": "p", "type": "quantitative"}
 }},
{"data": {"values": [{"i": 1.5, "p": 0.84833}]},
 "mark": {"type": "point", "shape": "triangle-down", "filled": true, "size": 30, "color": "black", "opacity": 1},
 "encoding": {
  "x": {"field": "i", "type": "quantitative", "axis": null},
  "y": {"field": "p", "type": "quantitative"}
 }},
{"data": {"values": [{"t": "EURGBP,Daily", "i": 3.6, "p": 0.84828}]},
 "mark": {"type": "text", "align": "left", "baseline": "middle", "fontSize": 8.5, "font": "DejaVu Sans", "color": "black"},
 "encoding": {
  "x": {"field": "i", "type": "quantitative", "axis": null},
  "y": {"field": "p", "type": "quantitative"},
  "text": {"field": "t"}
 }},
{"data": {"name": "tags"},
 "mark": {"type": "point", "shape": "M-1,-0.244H1V0.244H-1Z", "filled": true, "size": 1681, "color": "black", "opacity": 1},
 "encoding": {
  "x": {"datum": 168.2, "axis": null},
  "y": {"field": "p", "type": "quantitative"}
 }},
{"data": {"name": "tags"},
 "mark": {"type": "text", "align": "center", "baseline": "middle", "fontSize": 8, "font": "DejaVu Sans", "color": "white"},
 "encoding": {
  "x": {"datum": 168.2, "axis": null},
  "y": {"field": "p", "type": "quantitative"},
  "text": {"field": "t"}
 }}
]
},
{
"width": 652,
"height": 96,
"layer": [
{"data": {"name": "ao"},
 "mark": {"type": "bar", "width": 3},
 "encoding": {
  "x": {"field": "i", "type": "quantitative", "scale": {"domain": [-0.375, 162.625], "nice": false, "zero": false},
        "axis": {"title": null, "values": [0, 16, 32, 48, 64, 80, 96, 112, 128, 144],
                 "labelExpr": "['26 Aug 2024','17 Sep 2024','9 Oct 2024','30 Oct 2024','21 Nov 2024','13 Dec 2024','8 Jan 2025','30 Jan 2025','21 Feb 2025','14 Mar 2025'][round(datum.value/16)]",
                 "labelAlign": "left", "labelFlush": false, "tickSize": 4, "labelPadding": 1, "domain": false}},
  "y": {"field": "v", "type": "quantitative", "scale": {"domain": [-0.01204, 0.01516], "nice": false, "zero": false},
        "axis": {"orient": "right", "title": null, "values": [0.01289, 0, -0.011064],
                 "labelExpr": "datum.value == 0 ? '0.00' : (datum.value < 0 ? '-' + format(-datum.value, '.6f') : format(datum.value, '.5f'))",
                 "tickSize": 3, "labelPadding": 0, "labelFontSize": 7.8, "domain": false}},
  "fill": {"condition": {"test": "datum.d == 'g'", "value": "#008000"}, "value": "#ff0000"}
 }},
{"data": {"values": [{"t": "AO 0.000291", "i": 1.1, "v": 0.01227}]},
 "mark": {"type": "text", "align": "left", "baseline": "middle", "fontSize": 8.5, "font": "DejaVu Sans", "color": "black"},
 "encoding": {
  "x": {"field": "i", "type": "quantitative"},
  "y": {"field": "v", "type": "quantitative"},
  "text": {"field": "t"}
 }},
{"data": {"values": [{"i": 155.6, "v": 0.0007}]},
 "mark": {"type": "point", "shape": "circle", "filled": true, "size": 70, "color": "#f7a06a", "opacity": 0.75},
 "encoding": {
  "x": {"field": "i", "type": "quantitative"},
  "y": {"field": "v", "type": "quantitative"}
 }}
]
}
]
}
